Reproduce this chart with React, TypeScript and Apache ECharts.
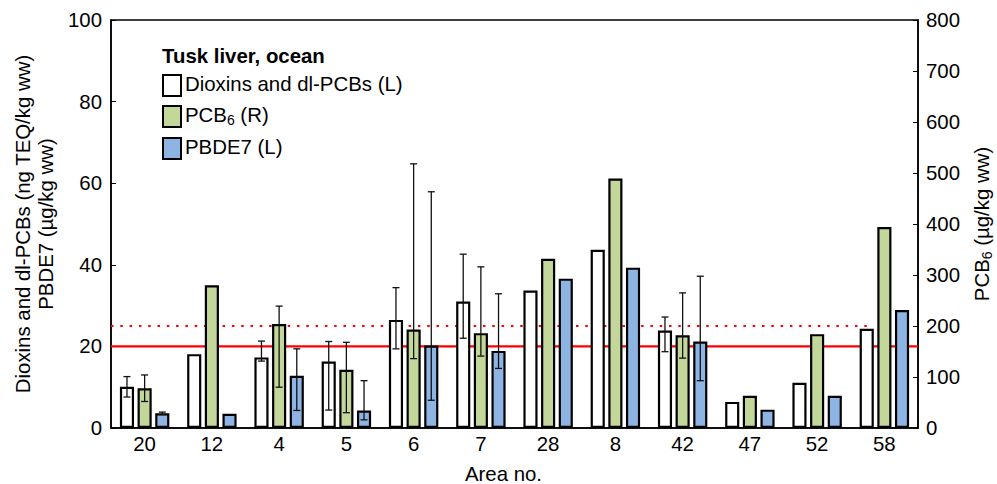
import React, { useEffect, useRef } from "react";
import * as echarts from "echarts";

const categories = ["20", "12", "4", "5", "6", "7", "28", "8", "42", "47", "52", "58"];
const dioxins = [10.1, 18.1, 17.3, 16.3, 26.5, 31.0, 33.7, 43.7, 23.9, 6.4, 11.1, 24.3];
const pcb6 = [78, 280, 204, 114, 193, 186, 332, 489, 182, 63, 184, 394];
const pbde7 = [3.6, 3.5, 12.8, 4.3, 20.2, 18.9, 36.6, 39.3, 21.2, 4.5, 7.9, 28.9];

// [low, high] error ranges, null where no error bar
const dioxinsErr: ([number, number] | null)[] = [[7.6, 12.6], null, [16.4, 21.3], [4.4, 21.2], [19.4, 34.4], [22.0, 42.6], null, null, [18.7, 27.2], null, null, null];
const pcb6Err: ([number, number] | null)[] = [[52, 104], null, [80, 239], [30, 168], [136, 518], [141, 316], null, null, [137, 265], null, null, null];
const pbde7Err: ([number, number] | null)[] = [[3.3, 3.9], null, [4.3, 19.4], [2.0, 11.6], [6.8, 57.9], [14.6, 32.9], null, null, [11.6, 37.2], null, null, null];

const limitSolid = 20;
const limitDotted = 25;
const dottedEnd = 11.33;

const FONT = "Liberation Sans, Arial, sans-serif";
const FS = 20.4;
const BAR_W = 0.21;
const BAR_GAP = 0.25;

function errData(errs: ([number, number] | null)[]) {
  const out: number[][] = [];
  errs.forEach((e, i) => {
    if (e) out.push([i, e[0], e[1]]);
  });
  return out;
}

function errSeries(errs: ([number, number] | null)[], slot: number, yAxisIndex: number) {
  return {
    type: "custom",
    xAxisIndex: 0,
    yAxisIndex,
    z: 10,
    data: errData(errs),
    renderItem: (params: any, api: any) => {
      const idx = api.value(0);
      const lo = api.coord([idx, api.value(1)]);
      const hi = api.coord([idx, api.value(2)]);
      const band = api.size([1, 0])[0];
      const off = slot * band * BAR_W * (1 + BAR_GAP);
      const x = lo[0] + off;
      const cap = 3.5;
      const style = { stroke: "#111", lineWidth: 1.3 };
      return {
        type: "group",
        children: [
          { type: "line", shape: { x1: x, y1: lo[1], x2: x, y2: hi[1] }, style },
          { type: "line", shape: { x1: x - cap, y1: lo[1], x2: x + cap, y2: lo[1] }, style },
          { type: "line", shape: { x1: x - cap, y1: hi[1], x2: x + cap, y2: hi[1] }, style },
        ],
      };
    },
  };
}

export default function App() {
  const ref = useRef<HTMLDivElement>(null);
  useEffect(() => {
    if (!ref.current) return;
    const chart = echarts.init(ref.current, null, { renderer: "svg" });
    const barCommon = {
      type: "bar",
      xAxisIndex: 0,
      barWidth: BAR_W * 100 + "%",
      barGap: BAR_GAP * 100 + "%",
      z: 5,
    };
    const legendY = [74, 105, 137];
    const legendColors = ["#ffffff", "#C4D79B", "#8DB4E2"];
    const legendTexts = [
      { text: "Dioxins and dl-PCBs (L)" },
      { text: "PCB{s|6} (R)" },
      { text: "PBDE7 (L)" },
    ];
    chart.setOption({
      animation: false,
      textStyle: { fontFamily: FONT },
      grid: {
        left: 111,
        right: 79,
        top: 20,
        bottom: 56,
        outerBoundsMode: "none",
        containLabel: false,
        show: true,
        borderColor: "#000",
        borderWidth: 1.5,
        backgroundColor: "transparent",
      },
      xAxis: [
        {
          type: "category",
          data: categories,
          name: "Area no.",
          nameLocation: "middle",
          nameGap: 37,
          nameTextStyle: { color: "#000", fontSize: FS, fontFamily: FONT, lineHeight: 18, padding: [0, 22, 0, 0] },
          axisLine: { show: true, lineStyle: { color: "#000", width: 1.5 } },
          axisTick: { show: true, inside: true, alignWithLabel: true, length: 4, lineStyle: { color: "#000" } },
          axisLabel: { color: "#000", fontSize: FS, fontFamily: FONT, margin: 6 },
          splitLine: { show: false },
        },
        { type: "value", min: 0, max: 12, show: false },
      ],
      yAxis: [
        {
          type: "value",
          min: 0,
          max: 100,
          interval: 20,
          name: "Dioxins and dl-PCBs (ng TEQ/kg ww)\nPBDE7 (µg/kg ww)",
          nameLocation: "middle",
          nameGap: 51,
          nameTextStyle: { color: "#000", fontSize: FS, fontFamily: FONT, lineHeight: 23 },
          axisLine: { show: true, lineStyle: { color: "#000", width: 1.5 } },
          axisTick: { show: true, inside: true, length: 5, lineStyle: { color: "#000" } },
          axisLabel: { color: "#000", fontSize: FS, fontFamily: FONT, margin: 9 },
          splitLine: { show: false },
        },
        {
          type: "value",
          min: 0,
          max: 800,
          interval: 100,
          name: "PCB{s|6} (µg/kg ww)",
          nameLocation: "middle",
          nameGap: 52,
          nameRotate: 90,
          nameTextStyle: {
            color: "#000",
            fontSize: FS,
            fontFamily: FONT,
            rich: { s: { fontSize: 14, fontFamily: FONT, color: "#000", padding: [10, 0, 0, 0] } },
          },
          axisLine: { show: true, lineStyle: { color: "#000", width: 1.5 } },
          axisTick: { show: true, inside: true, length: 5, lineStyle: { color: "#000" } },
          axisLabel: { color: "#000", fontSize: FS, fontFamily: FONT, margin: 8 },
          splitLine: { show: false },
        },
      ],
      series: [
        {
          type: "line",
          xAxisIndex: 1,
          yAxisIndex: 0,
          z: 1,
          symbol: "none",
          data: [[0, limitSolid], [12, limitSolid]],
          lineStyle: { color: "#FF0000", width: 2.2 },
        },
        {
          type: "line",
          xAxisIndex: 1,
          yAxisIndex: 0,
          z: 1,
          symbol: "none",
          data: [[0, limitDotted], [dottedEnd, limitDotted]],
          lineStyle: { color: "#FF0000", width: 2.2, type: [2.5, 6.8] },
        },
        {
          ...barCommon,
          name: "Dioxins and dl-PCBs (L)",
          yAxisIndex: 0,
          data: dioxins,
          itemStyle: { color: "#ffffff", borderColor: "#000", borderWidth: 2.2 },
        },
        {
          ...barCommon,
          name: "PCB6 (R)",
          yAxisIndex: 1,
          data: pcb6,
          itemStyle: { color: "#C4D79B", borderColor: "#000", borderWidth: 2.2 },
        },
        {
          ...barCommon,
          name: "PBDE7 (L)",
          yAxisIndex: 0,
          data: pbde7,
          itemStyle: { color: "#8DB4E2", borderColor: "#000", borderWidth: 2.2 },
        },
        errSeries(dioxinsErr, -1, 0),
        errSeries(pcb6Err, 0, 1),
        errSeries(pbde7Err, 1, 0),
      ],
      graphic: [
        {
          type: "text",
          left: 162,
          top: 46,
          style: { text: "Tusk liver, ocean", fill: "#000", font: `bold ${FS}px ${FONT}` },
        },
        ...legendY.map((y, i) => ({
          type: "rect",
          left: 162,
          top: y,
          shape: { width: 18, height: 21 },
          style: { fill: legendColors[i], stroke: "#000", lineWidth: 2 },
        })),
        ...legendY.map((y, i) => ({
          type: "text",
          left: 185,
          top: y,
          style: {
            text: legendTexts[i].text,
            fill: "#000",
            font: `${FS}px ${FONT}`,
            rich: { s: { fontSize: 14, fontFamily: FONT, fill: "#000", padding: [10, 0, 0, 0] } },
          },
        })),
      ],
    });
    return () => chart.dispose();
  }, []);
  return <div ref={ref} style={{ width: 997, height: 484, position: "absolute", left: 0, top: 0 }} />;
}
